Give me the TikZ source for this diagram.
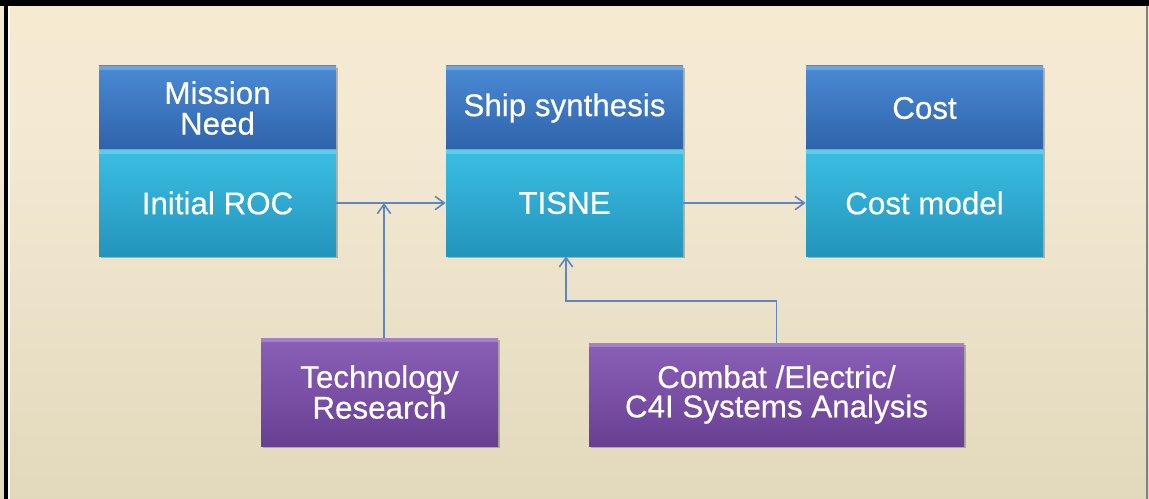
\documentclass[tikz,border=0pt]{standalone}
\usepackage{fontspec}
\setmainfont{Liberation Sans}
\newfontfamily\boxfont{Liberation Sans}[FakeBold=0.5]
\usetikzlibrary{arrows.meta,shadows}

% colours
\definecolor{bgtop}{RGB}{252,235,203}
\definecolor{bgmid}{RGB}{243,233,211}
\definecolor{bglow}{RGB}{224,214,184}
\definecolor{bgbot}{RGB}{209,196,156}
\definecolor{bluetop}{RGB}{74,138,212}
\definecolor{bluebot}{RGB}{46,99,170}
\definecolor{cyantop}{RGB}{58,190,226}
\definecolor{cyanbot}{RGB}{36,148,188}
\definecolor{purptop}{RGB}{138,96,184}
\definecolor{purpbot}{RGB}{104,64,146}
\definecolor{linkc}{RGB}{96,134,190}

\pgfdeclareverticalshading{bgshade}{100bp}{%
  color(0bp)=(bgbot); color(20bp)=(bglow); color(60bp)=(bgmid); color(100bp)=(bgtop)}

\newcommand{\pxu}{0.75pt}

\tikzset{
  panel/.style={rectangle, inner sep=0pt, align=center, text=white,
    font=\boxfont\fontsize{23.5}{25}\selectfont,
    drop shadow={shadow xshift=1.5pt, shadow yshift=-1.5pt, opacity=0.35, fill=black!70},
    path picture={\fill[white,opacity=0.22]
      (path picture bounding box.north west) rectangle
      ([yshift=-3pt]path picture bounding box.north east);}},
  headbox/.style={panel, top color=bluetop, bottom color=bluebot,
    minimum width=237*\pxu, minimum height=84*\pxu},
  bodybox/.style={panel, top color=cyantop, bottom color=cyanbot,
    minimum width=237*\pxu, minimum height=106*\pxu},
  inputbox/.style={panel, top color=purptop, bottom color=purpbot},
  link/.style={draw=linkc, line width=1.3pt,
    -{Straight Barb[length=7pt,width=10pt,line width=1.2pt]}},
}

\begin{document}
\begin{tikzpicture}[x=0.75pt,y=-0.75pt]
  \useasboundingbox (0,0) rectangle (1149,499);

  % backdrop and window edges
  \shade[shading=bgshade] (0,0) rectangle (1149,499);
  \fill[black] (0,0) rectangle (1149,6);
  \fill[black] (4,0) rectangle (8,499);
  \fill[white!85!bgtop] (8,6) rectangle (9.5,499);
  \fill[black!50] (1146,6) rectangle (1148,499);

  % upper column: heading above, content below
  \node[headbox] (mn) at (217.5,108) {Mission\\[-2pt]Need};
  \node[bodybox] (ir) at (217.5,203) {Initial ROC};

  \node[headbox] (ss) at (564.5,108) {Ship synthesis};
  \node[bodybox] (ts) at (564.5,203) {TISNE};

  \node[headbox] (co) at (924.5,108) {Cost};
  \node[bodybox] (cm) at (924.5,203) {Cost model};

  % lower inputs
  \node[inputbox, minimum width=237*\pxu, minimum height=108*\pxu]
    (tr) at (379.5,392) {Technology\\[-2pt]Research};
  \node[inputbox, minimum width=375*\pxu, minimum height=103*\pxu]
    (ca) at (776.5,394.5) {Combat /Electric/\\[-3pt]C4I Systems Analysis};

  % flow
  \coordinate (j1) at (384,203);
  \coordinate (j2) at (566,301);

  \draw[link] (ir.east) -- (ts.west);
  \draw[link] (ts.east) -- (cm.west);
  \draw[link] (tr.north -| j1) -- (j1);
  \draw[link] (ca.north) |- (j2) -- (ts.south -| j2);
\end{tikzpicture}
\end{document}
